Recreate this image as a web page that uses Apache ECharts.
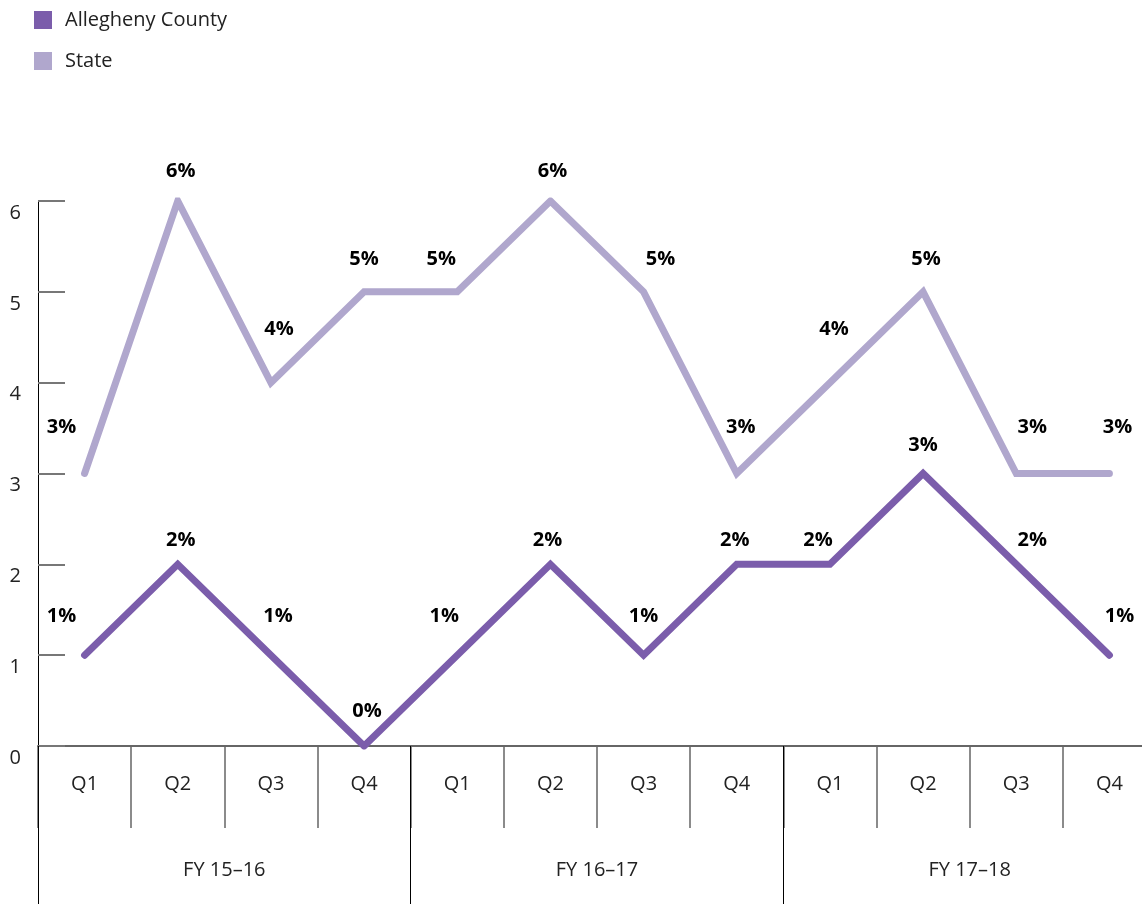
<!DOCTYPE html>
<html>
<head>
<meta charset="utf-8">
<script src="https://cdn.jsdelivr.net/npm/echarts@6/dist/echarts.min.js"></script>
<style>
  html, body { margin: 0; padding: 0; background: #fff; overflow: hidden; }
  /* the plot runs slightly past the right edge of the window, as in the source */
  #main { width: 1160px; height: 904px; }
</style>
</head>
<body>
<div id="main"></div>
<script>
// data
const quarters = ['Q1', 'Q2', 'Q3', 'Q4', 'Q1', 'Q2', 'Q3', 'Q4', 'Q1', 'Q2', 'Q3', 'Q4'];
const fiscalYears = ['FY 15–16', 'FY 16–17', 'FY 17–18'];
const alleghenyValues = [1, 2, 1, 0, 1, 2, 1, 2, 2, 3, 2, 1];
const stateValues = [3, 6, 4, 5, 5, 6, 5, 3, 4, 5, 3, 3];

// label nudges (label centre relative to the point), styling only
const alleghenyLabelShift = [[-23, -39], [3, -24], [7, -39], [3, -35], [-13, -39], [-3, -24], [0, -39], [-2, -24], [-12, -24], [0, -28], [16, -24], [10, -39]];
const stateLabelShift = [[-23, -46], [3, -30], [8, -53], [0, -33], [-16, -33], [2, -30], [17, -33], [4, -46], [4, -53], [3, -33], [16, -46], [8, -46]];

const FONT = '"Open Sans", "Noto Sans", sans-serif';
const ALLEGHENY_COLOR = '#7b5dab';
const STATE_COLOR = '#b0a7cd';

function withLabels(values, shifts) {
  return values.map((v, i) => ({
    value: v,
    label: { offset: shifts[i] },
  }));
}

const lineLabel = {
  show: true,
  position: 'inside',
  formatter: '{c}%',
  color: '#000',
  fontWeight: 'bold',
  fontSize: 20,
  fontFamily: FONT,
};

const chart = echarts.init(document.getElementById('main'));

chart.setOption({
  animation: false,
  backgroundColor: '#fff',
  textStyle: { fontFamily: FONT },
  legend: {
    orient: 'vertical',
    left: 34,
    top: 10,
    padding: 0,
    itemWidth: 18,
    itemHeight: 18,
    itemGap: 21,
    icon: 'rect',
    selectedMode: false,
    textStyle: { fontSize: 20, color: '#222', fontFamily: FONT, padding: [0, 0, 0, 8] },
    data: ['Allegheny County', 'State'],
  },
  grid: {
    left: 38,
    top: 201,
    right: 4,
    bottom: 158,
    containLabel: false,
  },
  xAxis: [
    {
      type: 'category',
      data: quarters,
      position: 'bottom',
      boundaryGap: true,
      axisLine: { show: true, lineStyle: { color: '#666', width: 2 } },
      axisTick: { show: true, interval: 0, length: 82, lineStyle: { color: '#666', width: 1.5 } },
      axisLabel: { interval: 0, margin: 28, fontSize: 20, color: '#222', fontFamily: FONT },
      splitLine: { show: false },
    },
    {
      type: 'category',
      data: fiscalYears,
      position: 'bottom',
      boundaryGap: true,
      z: 5,
      axisLine: { show: false },
      axisTick: { show: true, interval: 0, length: 158, lineStyle: { color: '#000', width: 1 } },
      axisLabel: { interval: 0, margin: 114, fontSize: 20, color: '#222', fontFamily: FONT },
      splitLine: { show: false },
    },
  ],
  yAxis: {
    type: 'value',
    min: 0,
    max: 6,
    interval: 1,
    axisLine: { show: true, lineStyle: { color: '#000', width: 1 } },
    axisTick: { show: true, inside: true, length: 27, lineStyle: { color: '#777', width: 2 } },
    axisLabel: { margin: 17, fontSize: 20, color: '#222', fontFamily: FONT, verticalAlign: 'top', padding: [2, 0, 0, 0] },
    splitLine: { show: false },
  },
  series: [
    {
      name: 'State',
      type: 'line',
      xAxisIndex: 0,
      data: withLabels(stateValues, stateLabelShift),
      color: STATE_COLOR,
      symbol: 'circle',
      symbolSize: 0.1,
      showSymbol: true,
      itemStyle: { color: STATE_COLOR },
      lineStyle: { width: 7, color: STATE_COLOR, cap: 'round', join: 'miter' },
      label: lineLabel,
    },
    {
      name: 'Allegheny County',
      type: 'line',
      xAxisIndex: 0,
      data: withLabels(alleghenyValues, alleghenyLabelShift),
      color: ALLEGHENY_COLOR,
      symbol: 'circle',
      symbolSize: 0.1,
      showSymbol: true,
      itemStyle: { color: ALLEGHENY_COLOR },
      lineStyle: { width: 7, color: ALLEGHENY_COLOR, cap: 'round', join: 'miter' },
      label: lineLabel,
    },
  ],
});
</script>
</body>
</html>
